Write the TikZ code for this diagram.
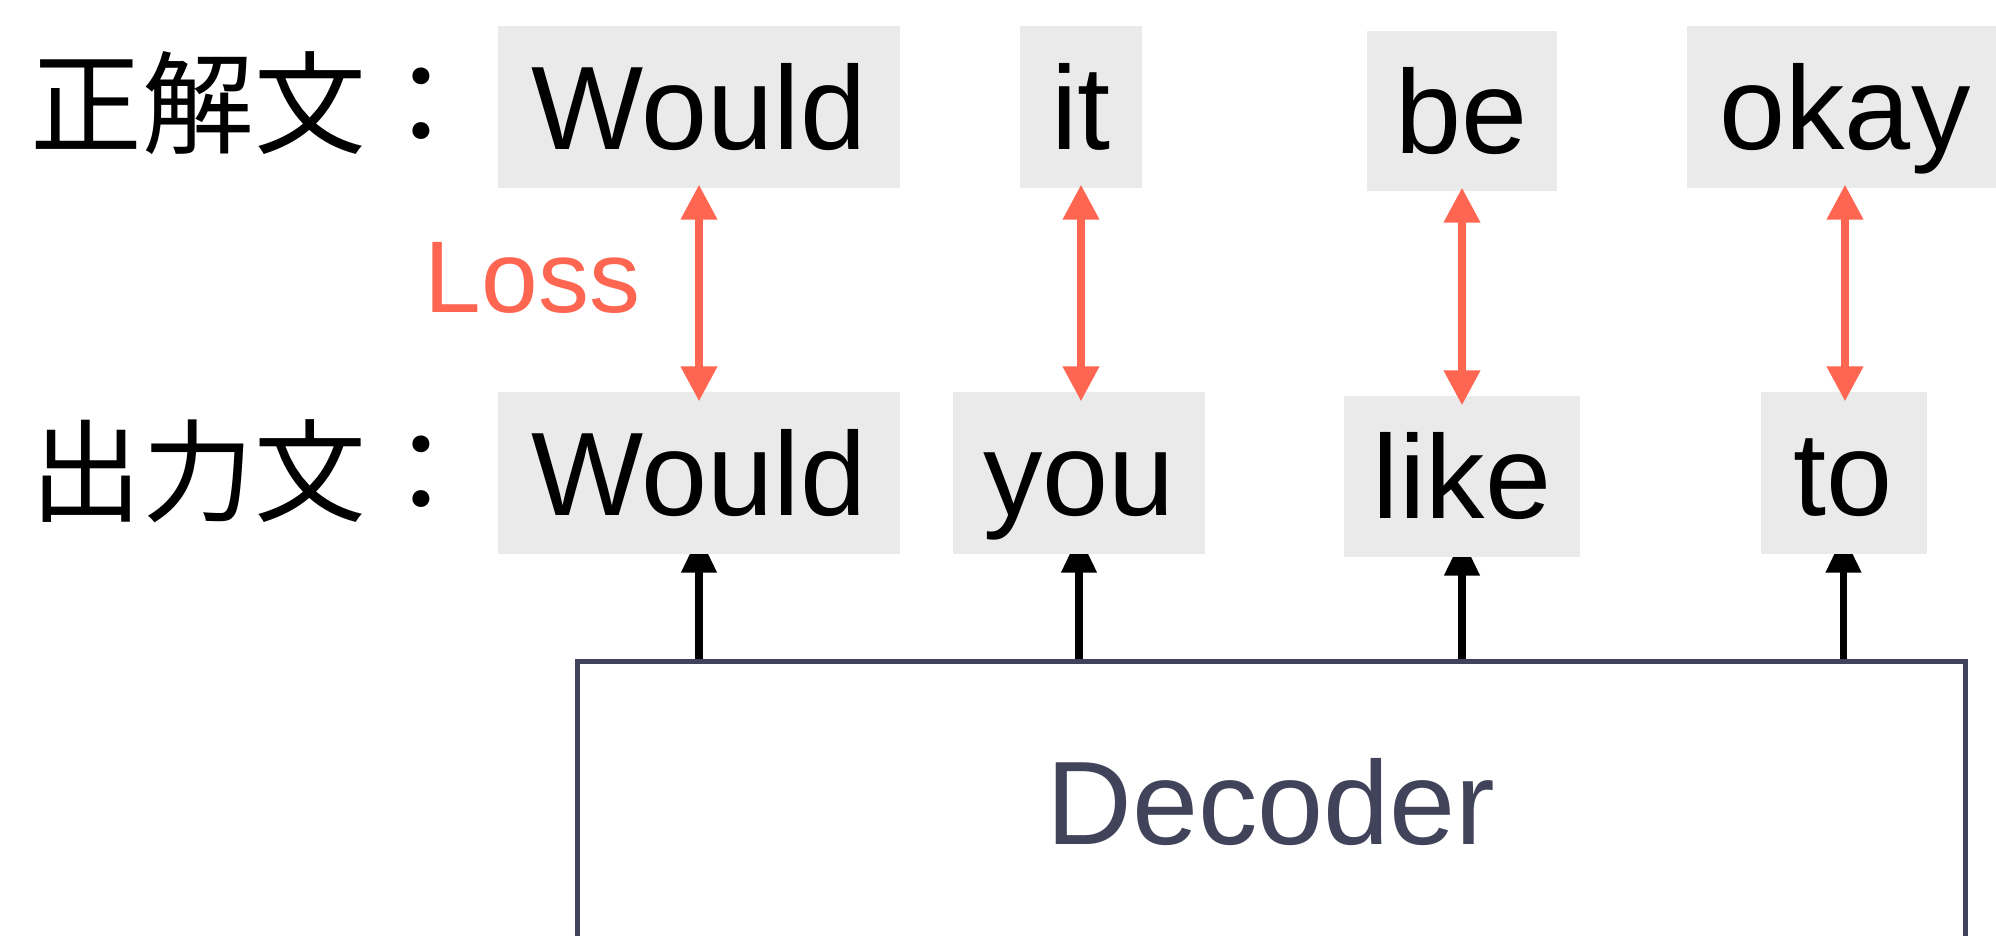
\documentclass[tikz,border=0pt]{standalone}
\usepackage{fontspec}
\setmainfont{Liberation Sans}
\newfontfamily\jpfont{Noto Sans CJK JP}
\usepackage{xcolor}
\usepackage{tikz}
\usetikzlibrary{arrows.meta, positioning, backgrounds, calc}
\definecolor{tokgray}{HTML}{EAEAEA}
\definecolor{lossred}{HTML}{FF6652}
\definecolor{decslate}{HTML}{41435A}

\begin{document}
\begin{tikzpicture}[
  font=\fontsize{33.8pt}{40pt}\selectfont,
  tok/.style={rectangle, fill=tokgray, inner sep=0pt, minimum height=1.62cm,
              text height=0.85cm, text depth=0pt, align=center},
  dec/.style={rectangle, draw=decslate, line width=0.05cm, text=decslate,
              minimum width=13.88cm, minimum height=2.80cm,
              text height=0.85cm, text depth=0pt},
  lbl/.style={font=\jpfont\fontsize{31.8pt}{36pt}\selectfont,
              anchor=base west, inner sep=0pt},
  lossarr/.style={{Triangle[length=3.5mm, width=3.5mm]}-{Triangle[length=3.5mm, width=3.5mm]},
                  draw=lossred, line width=0.075cm},
  outarr/.style={-{Triangle[length=3.8mm, width=3.4mm]}, line width=0.075cm}
]
\useasboundingbox (0,0) rectangle (19.96,-9.36);
\clip (0,0) rectangle (19.96,-9.36);
%% row labels
\node[lbl] (l_gold) at (0.30,-1.455) {正解文：};
\node[lbl] (l_out)  at (0.30,-5.135) {出力文：};
%% reference tokens (top row)
\node[tok, minimum width=4.02cm] (g_would) at (6.99, -1.07) {Would};
\node[tok, minimum width=1.22cm] (g_it)    at (10.81,-1.07) {it};
\node[tok, minimum width=1.90cm, minimum height=1.60cm] (g_be) at (14.62,-1.11) {be};
\node[tok, minimum width=3.16cm] (g_okay)  at (18.45,-1.07) {okay};
%% generated tokens (bottom row)
\node[tok, minimum width=4.02cm] (o_would) at (6.99, -4.73) {Would};
\node[tok, minimum width=2.52cm] (o_you)   at (10.79,-4.73) {you};
\node[tok, minimum width=2.36cm, minimum height=1.61cm] (o_like) at (14.62,-4.765) {like};
\node[tok, minimum width=1.66cm] (o_to)    at (18.435,-4.73) {to};
%% decoder block
\node[dec] (dec) at (12.71,-8.02) {Decoder};
%% decoder outputs, tips tucked under the token boxes
\begin{pgfonlayer}{background}
  \foreach \tk in {o_would, o_you, o_like, o_to}
    \draw[outarr, shorten >=-0.20cm] (dec.north -| \tk) -- (\tk.south);
\end{pgfonlayer}
%% loss between reference and output
\draw[lossarr, shorten <=-0.04cm, shorten >=-0.10cm] (g_would.south) -- (o_would.north)
    node[midway, left, xshift=-0.55cm, yshift=0.125cm, inner sep=0pt,
         text=lossred, font=\fontsize{29pt}{34pt}\selectfont] (loss) {Loss};
\draw[lossarr, shorten <=-0.04cm, shorten >=-0.10cm] (g_it.south)   -- (g_it.south |- o_you.north);
\draw[lossarr, shorten <=-0.04cm, shorten >=-0.10cm] (g_be.south)   -- (g_be.south |- o_like.north);
\draw[lossarr, shorten <=-0.04cm, shorten >=-0.10cm] (g_okay.south) -- (g_okay.south |- o_to.north);
\end{tikzpicture}
\end{document}
